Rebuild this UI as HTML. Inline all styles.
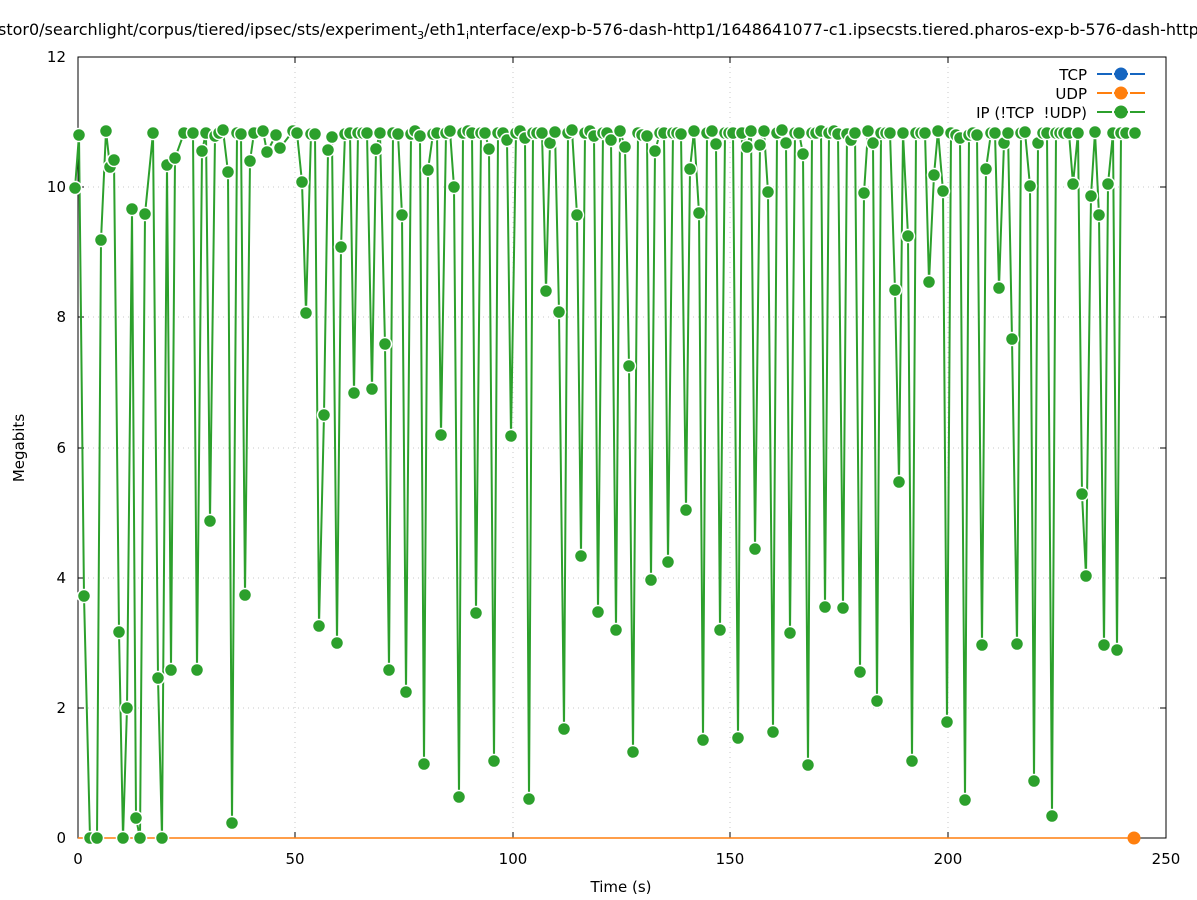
<!DOCTYPE html>
<html><head><meta charset="utf-8"><style>
body{margin:0;background:#fff;}
svg{display:block;font-family:"DejaVu Sans","Liberation Sans",sans-serif;}
</style></head><body>
<svg id="s" width="1197" height="900" viewBox="0 0 1197 900" xmlns="http://www.w3.org/2000/svg">
<rect width="1197" height="900" fill="#fff"/>
<text x="-2" y="35" font-size="16" fill="#000">stor0/searchlight/corpus/tiered/ipsec/sts/experiment<tspan font-size="11" dy="4">3</tspan><tspan dy="-4">/eth1</tspan><tspan font-size="11" dy="4">i</tspan><tspan dy="-4">nterface/exp-b-576-dash-http1/1648641077-c1.ipsecsts.tiered.pharos-exp-b-576-dash-http1</tspan></text>
<g stroke="#c8c8c8" stroke-dasharray="1,4" stroke-width="1">
<line x1="78" x2="1166" y1="708" y2="708"/><line x1="78" x2="1166" y1="578" y2="578"/><line x1="78" x2="1166" y1="448" y2="448"/><line x1="78" x2="1166" y1="317" y2="317"/><line x1="78" x2="1166" y1="187" y2="187"/>
<line x1="295" x2="295" y1="57" y2="838"/><line x1="513" x2="513" y1="57" y2="838"/><line x1="730" x2="730" y1="57" y2="838"/><line x1="948" x2="948" y1="57" y2="838"/>
</g>
<rect x="78" y="57" width="1088" height="781" fill="none" stroke="#000" stroke-width="1"/>
<g stroke="#000"><line x1="78" x2="84" y1="708" y2="708"/><line x1="78" x2="84" y1="578" y2="578"/><line x1="78" x2="84" y1="448" y2="448"/><line x1="78" x2="84" y1="317" y2="317"/><line x1="78" x2="84" y1="187" y2="187"/>
<line x1="1160" x2="1166" y1="708" y2="708"/><line x1="1160" x2="1166" y1="578" y2="578"/><line x1="1160" x2="1166" y1="448" y2="448"/><line x1="1160" x2="1166" y1="317" y2="317"/><line x1="1160" x2="1166" y1="187" y2="187"/>
<line x1="295" x2="295" y1="838" y2="832"/><line x1="513" x2="513" y1="838" y2="832"/><line x1="730" x2="730" y1="838" y2="832"/><line x1="948" x2="948" y1="838" y2="832"/>
<line x1="295" x2="295" y1="57" y2="63"/><line x1="513" x2="513" y1="57" y2="63"/><line x1="730" x2="730" y1="57" y2="63"/><line x1="948" x2="948" y1="57" y2="63"/></g>
<g font-size="15" text-anchor="end" fill="#000">
<text x="66" y="843">0</text><text x="66" y="713">2</text><text x="66" y="583">4</text><text x="66" y="453">6</text><text x="66" y="322">8</text><text x="66" y="192">10</text><text x="66" y="62">12</text></g>
<g font-size="15" text-anchor="middle" fill="#000">
<text x="78" y="864">0</text><text x="295" y="864">50</text><text x="513" y="864">100</text><text x="730" y="864">150</text><text x="948" y="864">200</text><text x="1166" y="864">250</text>
<text x="621" y="892">Time (s)</text>
<text transform="translate(24,448) rotate(-90)">Megabits</text></g>
<line x1="78" x2="1134" y1="838" y2="838" stroke="#ff7f0e" stroke-width="1.5"/>
<g id="pl"></g>
<circle cx="1134" cy="838" r="6.5" fill="#ff7f0e"/>
<g font-size="15" text-anchor="end" fill="#000"><text x="1087" y="80">TCP</text><text x="1087" y="99">UDP</text><text x="1087" y="118" xml:space="preserve">IP (!TCP  !UDP)</text></g>
<g stroke-width="2"><line x1="1097" x2="1145" y1="74" y2="74" stroke="#1565c0"/><line x1="1097" x2="1145" y1="93" y2="93" stroke="#ff7f0e"/><line x1="1097" x2="1145" y1="112" y2="112" stroke="#2ca02c"/></g>
<g stroke="#fff" stroke-width="3"><line x1="1112" x2="1114" y1="74" y2="74"/><line x1="1128" x2="1130" y1="74" y2="74"/><line x1="1112" x2="1114" y1="93" y2="93"/><line x1="1128" x2="1130" y1="93" y2="93"/><line x1="1112" x2="1114" y1="112" y2="112"/><line x1="1128" x2="1130" y1="112" y2="112"/></g>
<circle cx="1121" cy="74" r="6.5" fill="#1565c0"/><circle cx="1121" cy="93" r="6.5" fill="#ff7f0e"/><circle cx="1121" cy="112" r="6.5" fill="#2ca02c"/>
</svg>
<script>
var d=[75,188,79,135,84,596,90,838,97,838,101,240,106,131,110,167,114,160,119,632,123,838,127,708,132,209,136,818,140,838,145,214,153,133,158,678,162,838,167,165,171,670,175,158,184,133,193,133,197,670,202,151,206,133,210,521,215,136,219,133,223,130,228,172,232,823,237,133,241,134,245,595,250,161,254,133,263,131,267,152,276,135,280,148,293,131,297,133,302,182,306,313,311,134,315,134,319,626,324,415,328,150,332,137,337,643,341,247,345,134,350,133,354,393,358,133,363,133,367,133,372,389,376,149,380,133,385,344,389,670,393,133,398,134,402,215,406,692,411,134,415,131,420,136,424,764,428,170,433,134,437,133,441,435,446,133,450,131,454,187,459,797,463,133,468,131,472,133,476,613,481,133,485,133,489,149,494,761,498,133,503,133,507,140,511,436,516,133,520,131,525,138,529,799,533,133,537,133,542,133,546,291,550,143,555,132,559,312,564,729,568,133,572,130,577,215,581,556,585,133,590,131,594,136,598,612,603,133,607,133,611,140,616,630,620,131,625,147,629,366,633,752,638,133,642,135,647,136,651,580,655,151,660,133,664,133,668,562,673,133,677,133,681,134,686,510,690,169,694,131,699,213,703,740,707,133,712,131,716,144,720,630,725,133,729,133,733,133,738,738,742,133,747,147,751,131,755,549,760,145,764,131,768,192,773,732,777,133,782,130,786,143,790,633,795,133,799,133,803,154,808,765,812,133,816,133,821,131,825,607,829,133,834,131,838,134,843,608,847,134,851,140,855,133,860,672,864,193,868,131,873,143,877,701,881,133,886,133,890,133,895,290,899,482,903,133,908,236,912,761,916,133,921,133,925,133,929,282,934,175,938,131,943,191,947,722,951,133,956,135,960,138,965,800,969,135,973,133,977,135,982,645,986,169,991,133,995,133,999,288,1004,143,1008,133,1012,339,1017,644,1021,133,1025,132,1030,186,1034,781,1038,143,1043,133,1047,133,1052,816,1056,133,1060,133,1064,133,1069,133,1073,184,1078,133,1082,494,1086,576,1091,196,1095,132,1099,215,1104,645,1108,184,1113,133,1117,650,1121,133,1126,133,1135,133];
var ns="http://www.w3.org/2000/svg",g=document.getElementById("pl"),pts=[];
for(var i=0;i<d.length;i+=2)pts.push(d[i]+","+d[i+1]);
var p=document.createElementNS(ns,"polyline");p.setAttribute("points",pts.join(" "));p.setAttribute("fill","none");p.setAttribute("stroke","#2ca02c");p.setAttribute("stroke-width","2");g.appendChild(p);
for(var i=0;i<d.length;i+=2){var c=document.createElementNS(ns,"circle");c.setAttribute("cx",d[i]);c.setAttribute("cy",d[i+1]);c.setAttribute("r","6.5");c.setAttribute("fill","#2ca02c");c.setAttribute("stroke","#fff");c.setAttribute("stroke-width","1.5");g.appendChild(c);}
</script>
</body></html>
